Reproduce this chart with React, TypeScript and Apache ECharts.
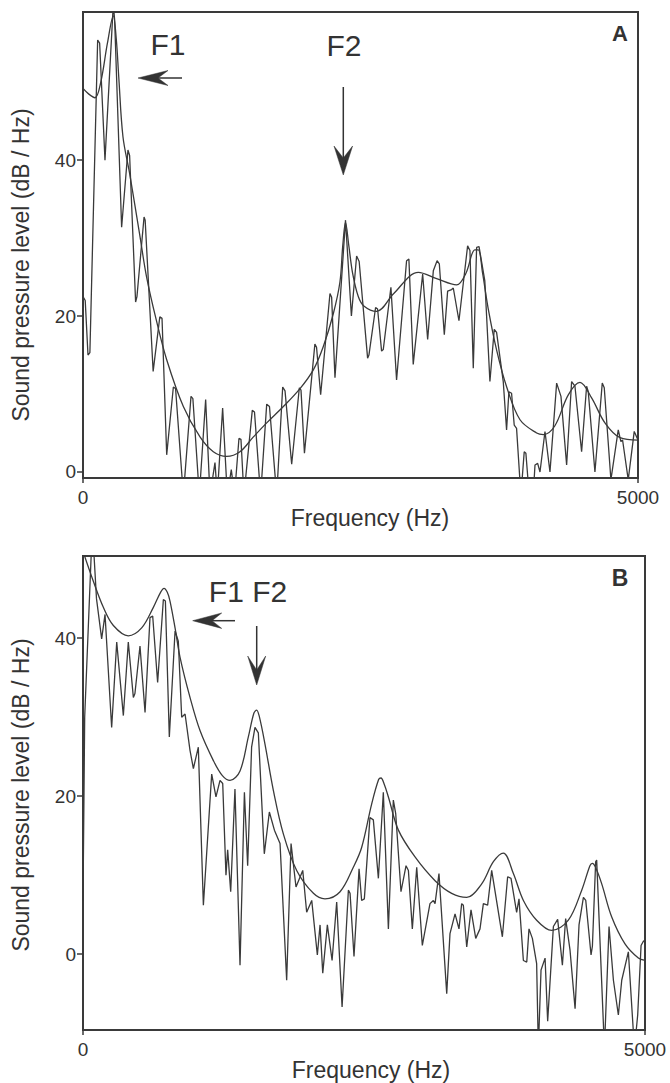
import React, { useEffect, useRef } from "react";
import * as echarts from "echarts";

// Panel A: narrow-band spectrum (frequency Hz, level dB/Hz)
const spectrumA: [number, number][] = [
  [0, 22.5], [20, 22], [45, 15], [62, 15.3], [132, 55.4], [150, 55], [198, 40], [273, 60], [285, 58],
  [348, 31.4], [405, 41.3], [420, 40.6], [474, 21.8], [486, 22.5], [550, 32.7], [560, 32.3], [632, 12.9],
  [692, 19.9], [712, 19.7], [754, 2.2], [814, 10.9], [834, 10.7], [904, -3], [973, 9.7], [990, 9.4],
  [1048, -3], [1105, 9.3], [1144, -3], [1189, 1.2], [1210, -3], [1258, 8.2], [1300, -3], [1336, 0.3],
  [1365, -3], [1405, 4.3], [1423, 4.2], [1450, -3], [1525, 7.9], [1545, 7.7], [1600, -3], [1655, 8.7],
  [1680, 8.4], [1745, -3], [1799, 10.9], [1820, 10.4], [1880, 1], [1949, 10.8], [1964, 10.5], [1995, 2.4],
  [2089, 16.4], [2104, 16], [2141, 9.9], [2225, 22.9], [2240, 22.4], [2270, 12.1], [2365, 32.3], [2418, 20],
  [2465, 27.7], [2488, 27], [2564, 14.6], [2576, 15], [2636, 21.1], [2654, 20.9], [2690, 15.5], [2705, 15.7],
  [2774, 23.7], [2825, 11.8], [2915, 27.1], [2936, 27.3], [2975, 13.8], [3060, 25.4], [3105, 17], [3156, 25.8],
  [3190, 27.1], [3210, 26.7], [3255, 17.6], [3285, 23.2], [3321, 23.4], [3336, 23.6], [3387, 19.4], [3465, 29],
  [3486, 28.4], [3516, 13.3], [3546, 28.8], [3568, 28.9], [3620, 24.5], [3666, 11.6], [3705, 18.3], [3726, 17.9],
  [3786, 11.6], [3816, 5.4], [3837, 10.3], [3861, 10.1], [3885, 6], [3906, 5.6], [3945, -3], [3975, 2.6],
  [3990, 2.4], [4020, -3], [4056, -3], [4072, 0.9], [4096, 1.1], [4117, 0], [4162, 5.2], [4207, 0],
  [4267, 11.4], [4306, 9.7], [4357, 0.9], [4402, 11.6], [4432, 11], [4492, 2.6], [4537, 11], [4552, 10.3],
  [4612, 0], [4678, 11.4], [4696, 10.8], [4756, -1], [4822, 5.4], [4846, 3.9], [4861, 4.1], [4912, -1],
  [4966, 5.2], [5000, 4.1],
];

// Panel A: smooth spectral envelope
const envelopeA: [number, number][] = [
  [0, 49.2], [50, 48.5], [108, 48], [160, 50], [220, 55], [273, 58.5], [300, 55.5], [322, 50.7], [360, 43],
  [420, 38.3], [510, 30.5], [573, 25], [660, 19.5], [754, 14.4], [904, 8.4], [1054, 4.5], [1174, 2.6],
  [1294, 2.0], [1414, 2.6], [1535, 4.5], [1655, 6.3], [1805, 8.4], [1955, 10.7], [2075, 13.1], [2165, 16.1],
  [2255, 20.3], [2315, 24.4], [2340, 29], [2365, 32], [2395, 29], [2430, 25.4], [2480, 22.5], [2530, 21.3],
  [2645, 20.6], [2800, 22.9], [3021, 25.6], [3186, 24.8], [3366, 24], [3450, 25.5], [3530, 28.5], [3561, 28.5],
  [3600, 25.5], [3650, 21], [3727, 15.6], [3817, 10.9], [3937, 6.7], [4087, 5], [4147, 4.8], [4250, 5.9],
  [4372, 9.9], [4477, 11.5], [4582, 9.5], [4702, 6.3], [4838, 4.4], [5000, 4.1],
];

// Panel B: narrow-band spectrum
const spectrumB: [number, number][] = [
  [0, 6.8], [15, 30], [77, 52], [92, 52], [120, 45], [166, 39.9], [196, 43], [255, 28.7], [300, 39.5],
  [359, 30.2], [403, 39.5], [448, 32.5], [462, 33], [507, 39], [552, 30.6], [596, 42.6], [620, 42.8],
  [664, 34.4], [715, 44.9], [733, 44.7], [768, 27.5], [819, 40.9], [848, 39.6], [878, 30], [908, 30.4],
  [952, 25.8], [982, 23.5], [1026, 26.2], [1071, 6.2], [1145, 22.8], [1183, 19.9], [1219, 22], [1243, 21.6],
  [1272, 10], [1287, 13.2], [1314, 7.9], [1352, 20.9], [1397, -1.4], [1436, 20.5], [1465, 11.2], [1500, 26.2],
  [1530, 28.7], [1560, 28], [1613, 12.7], [1658, 18], [1703, 15.7], [1753, 14], [1812, -3.3], [1851, 14],
  [1895, 8.5], [1955, 10.6], [1990, 5.3], [2035, 6.8], [2085, -0.1], [2109, 3.7], [2133, -2.4], [2174, 3.7],
  [2216, -0.8], [2257, 6.6], [2305, -6.7], [2361, 8.1], [2376, 7.7], [2411, -0.3], [2456, 10.8], [2479, 6.8],
  [2503, 7], [2539, 14.4], [2553, 17.3], [2583, 17], [2628, 9.6], [2672, 20.5], [2717, 3.2], [2761, 19.5],
  [2782, 17.8], [2829, 7.9], [2874, 11.2], [2895, 10.6], [2930, 3.2], [2969, 11], [3019, 1.1], [3087, 6.4],
  [3117, 6.8], [3132, 6.4], [3167, 10.2], [3236, -5], [3265, 2.6], [3310, 5.1], [3345, 3.2], [3369, 6.4],
  [3384, 6.2], [3414, 0.9], [3452, 5.6], [3494, 2], [3532, 3.2], [3562, 6.4], [3600, 6.2], [3636, 10.6],
  [3731, 2.2], [3778, 9.8], [3808, 9.6], [3858, 5.3], [3879, 7], [3918, -0.8], [3948, -1], [3968, 3.2],
  [3998, 2], [4036, -1.2], [4051, -12], [4075, -2], [4111, -0.5], [4134, -8.5], [4185, 3.5], [4223, 4.4],
  [4265, -1.4], [4294, 4.5], [4333, 0.5], [4378, -6.9], [4413, 3.7], [4452, 7.2], [4473, 6.8], [4520, -0.1],
  [4532, 1], [4561, 11.7], [4570, 11.9], [4639, -12], [4680, 3.5], [4719, -3.3], [4763, -7.7], [4793, -3.3],
  [4852, 0.3], [4906, -12], [4935, -7.7], [4965, 1.1], [4988, 1.7], [5000, 1.5],
];

// Panel B: smooth spectral envelope
const envelopeB: [number, number][] = [
  [0, 51], [92, 47.2], [181, 43.9], [270, 41.6], [403, 40.3], [522, 41.3], [626, 43.9], [690, 45.8],
  [721, 46.3], [750, 45.8], [774, 44.7], [819, 41.3], [863, 37.6], [952, 32.5], [1041, 28.3], [1160, 24.5],
  [1240, 22.6], [1308, 22], [1397, 23.2], [1471, 27.5], [1520, 30.5], [1545, 30.9], [1570, 30], [1619, 26.6],
  [1694, 20.7], [1783, 15.2], [1901, 10.6], [2050, 7.7], [2153, 7], [2287, 7.9], [2405, 11], [2479, 13.5],
  [2568, 19], [2630, 22.1], [2651, 22.3], [2680, 21.5], [2717, 19.9], [2806, 15.7], [2954, 12.3], [3132, 9.3],
  [3280, 7.7], [3414, 7.2], [3547, 8.9], [3651, 11.7], [3740, 12.8], [3829, 10.2], [3918, 6.8], [4036, 4.3],
  [4170, 3], [4318, 4.3], [4437, 8.1], [4510, 11.2], [4532, 11.5], [4560, 11], [4615, 8.9], [4704, 4.7],
  [4822, 1.3], [4941, -0.5], [5000, -0.8],
];

const yTickValues = [0, 20, 40];
const xTickValues = [0, 5000];
const xLabel = "Frequency (Hz)";
const yLabel = "Sound pressure level (dB / Hz)";

const INK = "#333333";
const LINE = "#3a3a3a";
const FONT = "'Liberation Sans', Arial, Helvetica, sans-serif";

const plain = (v: number) => String(v);

function xAxisFor(gridIndex: number) {
  return {
    type: "value" as const,
    gridIndex,
    min: 0,
    max: 5000,
    axisLine: { show: true, onZero: false, lineStyle: { color: LINE, width: 2 } },
    axisTick: { show: true, length: 5, customValues: xTickValues, lineStyle: { color: LINE, width: 1.5 } },
    axisLabel: { customValues: xTickValues, formatter: plain, margin: 10, color: INK, fontSize: 19, fontFamily: FONT },
    splitLine: { show: false },
  };
}

function yAxisFor(gridIndex: number, min: number, max: number) {
  return {
    type: "value" as const,
    gridIndex,
    min,
    max,
    axisLine: { show: true, onZero: false, lineStyle: { color: LINE, width: 2 } },
    axisTick: { show: true, length: 6, customValues: yTickValues, lineStyle: { color: LINE, width: 1.5 } },
    axisLabel: { customValues: yTickValues, formatter: plain, margin: 7, color: INK, fontSize: 19, fontFamily: FONT },
    splitLine: { show: false },
  };
}

function lineSeries(data: [number, number][], idx: number, smooth: number | boolean) {
  return {
    type: "line" as const,
    xAxisIndex: idx,
    yAxisIndex: idx,
    data,
    symbol: "none",
    smooth,
    clip: true,
    lineStyle: { color: LINE, width: 1.3 },
    silent: true,
  };
}

function text(x: number, y: number, t: string, size: number, extra: any = {}) {
  const { bold, ...rest } = extra;
  return {
    type: "text",
    x,
    y,
    ...rest,
    style: {
      text: t,
      fill: INK,
      font: `${bold ? "bold " : ""}${size}px ${FONT}`,
      textAlign: "center",
      textVerticalAlign: "middle",
    },
  };
}

function arrow(shaft: number[], head: number[][]) {
  return [
    {
      type: "line",
      shape: { x1: shaft[0], y1: shaft[1], x2: shaft[2], y2: shaft[3] },
      style: { stroke: INK, lineWidth: 1.5 },
    },
    {
      type: "polygon",
      shape: { points: head },
      style: { fill: INK, stroke: INK, lineWidth: 0.5 },
    },
  ];
}

export default function App() {
  const ref = useRef<HTMLDivElement>(null);
  useEffect(() => {
    if (!ref.current) return;
    const chart = echarts.init(ref.current, null, { renderer: "svg" });
    const option: any = {
      animation: false,
      backgroundColor: "#ffffff",
      grid: [
        { left: 83, top: 12, width: 555, height: 466, show: true, borderColor: LINE, borderWidth: 2, backgroundColor: "transparent" },
        { left: 83, top: 556, width: 562, height: 474, show: true, borderColor: LINE, borderWidth: 2, backgroundColor: "transparent" },
      ],
      xAxis: [xAxisFor(0), xAxisFor(1)],
      yAxis: [yAxisFor(0, -0.77, 59), yAxisFor(1, -9.6, 50.4)],
      series: [
        lineSeries(spectrumA, 0, false),
        lineSeries(envelopeA, 0, 0.35),
        lineSeries(spectrumB, 1, false),
        lineSeries(envelopeB, 1, 0.35),
      ],
      graphic: [
        text(21, 265, yLabel, 23, { rotation: Math.PI / 2 }),
        text(21, 795, yLabel, 23, { rotation: Math.PI / 2 }),
        text(370, 518, xLabel, 23),
        text(371, 1070, xLabel, 23),
        text(168, 44, "F1", 30),
        text(344, 45, "F2", 30),
        text(248, 591, "F1 F2", 30),
        text(620, 33, "A", 22, { bold: true }),
        text(620, 578, "B", 23, { bold: true }),
        ...arrow([158, 78, 182, 78], [[138, 78], [168, 70.5], [158, 78], [168, 85.5]]),
        ...arrow([343.3, 87, 343.3, 158], [[343.3, 175], [334, 146], [343.3, 158], [352.6, 146]]),
        ...arrow([212, 620.7, 235, 620.7], [[192.7, 620.7], [221.7, 613], [212, 620.7], [221.7, 628.4]]),
        ...arrow([256.7, 626, 256.7, 670], [[256.7, 685], [247.7, 656], [256.7, 670], [265.7, 656]]),
      ],
    };
    chart.setOption(option);
    return () => chart.dispose();
  }, []);
  return (
    <div
      ref={ref}
      style={{ position: "absolute", left: 0, top: 0, width: 670, height: 1083, background: "#fff" }}
    />
  );
}
